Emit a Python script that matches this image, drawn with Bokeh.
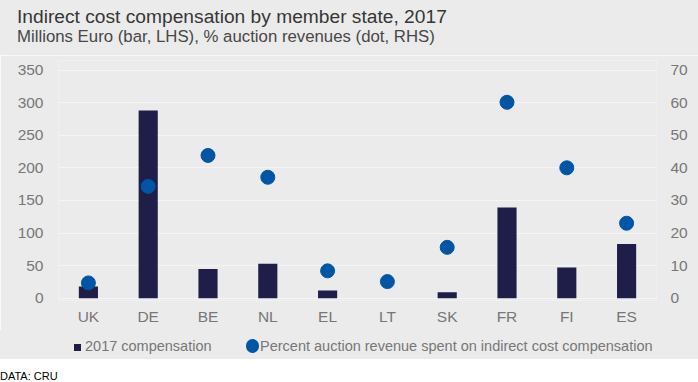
from bokeh.plotting import figure
from bokeh.models import FactorRange, Range1d, LinearAxis, ColumnDataSource, FixedTicker, Div
from bokeh.layouts import column
from bokeh.embed import file_html
from bokeh.resources import INLINE

countries = ["UK", "DE", "BE", "NL", "EL", "LT", "SK", "FR", "FI", "ES"]
compensation = [18, 288, 45, 53, 12, 0, 9, 139, 47, 83]
pct_revenue = [4.7, 34.3, 43.8, 37.1, 8.4, 5.1, 15.6, 60.1, 40.0, 23.0]
left_ticks = [0, 50, 100, 150, 200, 250, 300, 350]
right_ticks = [0, 10, 20, 30, 40, 50, 60, 70]

title_text = "Indirect cost compensation by member state, 2017"
subtitle_text = "Millions Euro (bar, LHS), % auction revenues (dot, RHS)"
bar_label = "2017 compensation"
dot_label = "Percent auction revenue spent on indirect cost compensation"
source_text = "DATA: CRU"

BG = "#ebebeb"
BAR = "#1e1e48"
DOT = "#0056a4"
TICK = "#777777"
FONT = "Liberation Sans"
CSS_FONT = "'Liberation Sans', Arial, sans-serif"

src = ColumnDataSource(dict(c=countries, comp=compensation,
                            pct_lhs=[v * 5 for v in pct_revenue]))

# ---- header (title + subtitle) ----
header_html = (
    '<div style="position:relative;width:698px;height:55px;">'
    f'<div style="position:absolute;left:17px;top:7.2px;white-space:nowrap;font-size:19.2px;'
    f'line-height:19.2px;color:#363636;font-family:{CSS_FONT};">{title_text}</div>'
    f'<div style="position:absolute;left:17px;top:29.2px;white-space:nowrap;font-size:16.8px;'
    f'line-height:16.8px;color:#474747;font-family:{CSS_FONT};">{subtitle_text}</div>'
    '</div>')
header = Div(text=header_html, width=698, height=55, margin=0,
             styles={"background-color": BG})

# ---- main chart ----
p = figure(x_range=FactorRange(*countries, range_padding=0),
           y_range=Range1d(-3.5, 364.6),
           width=698, height=275, output_backend="svg", toolbar_location=None,
           min_border_left=58, min_border_right=42, min_border_top=5,
           min_border_bottom=30, margin=0)
p.title = None
p.background_fill_color = BG
p.border_fill_color = BG
p.outline_line_color = None
p.extra_y_ranges = {"pct": Range1d(-0.7, 72.92)}

p.vbar(x="c", top="comp", width=0.32, source=src, fill_color=BAR, line_color=None)
p.scatter(x="c", y="pct_lhs", size=14, source=src, color=DOT)

p.yaxis.ticker = FixedTicker(ticks=left_ticks)
ax_r = LinearAxis(y_range_name="pct", ticker=FixedTicker(ticks=right_ticks))
p.add_layout(ax_r, "right")
for ax in [p.yaxis[0], ax_r, p.xaxis[0]]:
    ax.axis_line_color = None
    ax.major_tick_line_color = None
    ax.minor_tick_line_color = None
    ax.major_tick_out = 0
    ax.major_tick_in = 0
    ax.minor_tick_out = 0
    ax.major_label_text_color = TICK
    ax.major_label_text_font = FONT
    ax.major_label_text_font_size = "15.5px"
p.yaxis[0].major_label_standoff = 15
ax_r.major_label_standoff = 14
p.xaxis[0].major_label_standoff = 7

p.xgrid.grid_line_color = None
p.ygrid.ticker = FixedTicker(ticks=left_ticks)
p.ygrid.grid_line_color = "#f5f5f5"
p.ygrid.grid_line_width = 1

# ---- legend row ----
legend_html = (
    '<div style="position:relative;width:698px;height:29px;">'
    f'<div style="position:absolute;left:74px;top:13.5px;width:7px;height:7px;background:{BAR};"></div>'
    f'<div style="position:absolute;left:85px;top:9.4px;white-space:nowrap;font-size:14.5px;'
    f'line-height:14.5px;color:{TICK};font-family:{CSS_FONT};">{bar_label}</div>'
    f'<div style="position:absolute;left:245.8px;top:9px;width:13.5px;height:13.5px;'
    f'border-radius:50%;background:{DOT};"></div>'
    f'<div style="position:absolute;left:260px;top:9.4px;white-space:nowrap;font-size:14.5px;'
    f'line-height:14.5px;color:{TICK};font-family:{CSS_FONT};">{dot_label}</div>'
    '</div>')
legend = Div(text=legend_html, width=698, height=29, margin=0,
             styles={"background-color": BG})

# ---- source note ----
note_html = (
    '<div style="position:relative;width:698px;height:23px;">'
    f'<div style="position:absolute;left:0px;top:12px;white-space:nowrap;font-size:11px;'
    f'line-height:11px;color:#000000;font-family:{CSS_FONT};">{source_text}</div>'
    '</div>')
note = Div(text=note_html, width=698, height=23, margin=0,
           styles={"background-color": "#ffffff"})

layout = column(header, p, legend, note, spacing=0, margin=0)
open("out.html", "w").write(file_html(layout, INLINE))
